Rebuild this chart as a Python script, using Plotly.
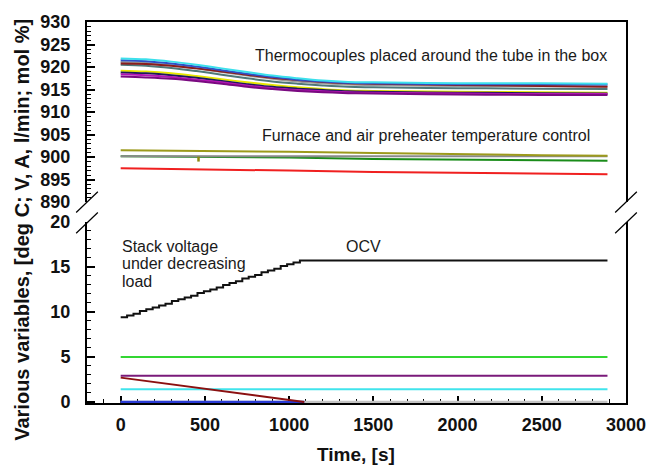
import plotly.graph_objects as go

# ---------------- data ----------------
# Thermocouples (top panel)
tc_x = [0, 150, 300, 450, 600, 750, 900, 1050, 1200, 1350, 1500, 2000, 2500, 2890]
tc_cyan = [921.9, 921.7, 921.2, 920.5, 919.7, 918.9, 918.1, 917.5, 917.0, 916.7, 916.6, 916.4, 916.4, 916.3]
tc_blue = [921.5, 921.3, 920.8, 920.1, 919.3, 918.5, 917.8, 917.2, 916.8, 916.5, 916.4, 916.2, 916.2, 916.1]
tc_grey = [921.1, 920.9, 920.4, 919.7, 918.9, 918.1, 917.4, 916.8, 916.4, 916.1, 916.0, 915.8, 915.8, 915.7]
tc_darkred = [920.8, 920.7, 920.3, 919.7, 919.0, 918.3, 917.6, 917.1, 916.7, 916.4, 916.3, 916.0, 915.8, 915.6]
tc_slate = [920.5, 920.3, 919.8, 919.1, 918.3, 917.5, 916.8, 916.3, 915.9, 915.6, 915.5, 915.3, 915.2, 915.1]
tc_yellow = [919.2, 919.0, 918.6, 918.0, 917.3, 916.6, 916.0, 915.5, 915.1, 914.8, 914.7, 914.5, 914.4, 914.3]
tc_navy = [918.8, 918.6, 918.2, 917.6, 916.9, 916.2, 915.6, 915.2, 914.9, 914.6, 914.5, 914.3, 914.2, 914.1]
tc_magenta = [918.4, 918.2, 917.8, 917.2, 916.6, 915.9, 915.3, 914.9, 914.6, 914.4, 914.3, 914.1, 914.0, 914.0]
tc_purple = [917.9, 917.7, 917.4, 916.9, 916.3, 915.6, 915.1, 914.7, 914.4, 914.2, 914.1, 913.9, 913.8, 913.8]

# Furnace and air preheater control (top panel)
fu_x = [0, 500, 1000, 1500, 2000, 2500, 2890]
fu_olive = [901.5, 901.4, 901.2, 900.9, 900.6, 900.4, 900.3]
fu_grey = [900.2, 900.2, 900.2, 900.2, 900.2, 900.2, 900.2]
fu_green = [900.2, 900.1, 899.9, 899.6, 899.4, 899.3, 899.2]
fu_red = [897.5, 897.3, 897.0, 896.7, 896.5, 896.3, 896.2]
spike_x = [462, 462]
spike_y = [900.1, 899.0]

# Stack voltage (bottom panel), staircase
sv_x = [0, 38, 76, 114, 152, 190, 228, 266, 304, 342, 380, 418, 456, 494, 532,
        570, 608, 646, 684, 722, 760, 798, 836, 874, 912, 950, 988, 1026, 1064, 2890]
sv_y = [9.4, 9.6, 9.8, 10.1, 10.3, 10.5, 10.7, 10.9, 11.2, 11.4, 11.6, 11.8, 12.1, 12.3, 12.5,
        12.7, 13.0, 13.2, 13.4, 13.7, 13.9, 14.1, 14.4, 14.6, 14.8, 15.1, 15.3, 15.5, 15.7, 15.7]

# Other bottom-panel variables
full_x = [0, 2890]
green_y = [5.0, 5.0]
purple_y = [2.9, 2.9]
cyan_y = [1.4, 1.4]
grey0_y = [0.0, 0.0]
load_x = [0, 1090]
current_y = [2.7, 0.0]
blue_y = [0.0, 0.0]

x_ticks = [0, 500, 1000, 1500, 2000, 2500, 3000]
y_top_ticks = [890, 895, 900, 905, 910, 915, 920, 925, 930]
y_bot_ticks = [0, 5, 10, 15, 20]

# ---------------- figure ----------------
fig = go.Figure()

def add(x, y, color, yaxis, xaxis, width=2, shape="linear"):
    fig.add_trace(go.Scatter(x=x, y=y, mode="lines", xaxis=xaxis, yaxis=yaxis,
                             line=dict(color=color, width=width, shape=shape),
                             showlegend=False, hoverinfo="skip"))

# top panel
for ys, c in [(tc_yellow, "#e6e600"), (tc_navy, "#1c1c58"), (tc_magenta, "#b414b4"),
              (tc_purple, "#7a0a80"), (tc_slate, "#4f7878"), (tc_grey, "#9a9a9a"),
              (tc_darkred, "#8b1c1c"), (tc_blue, "#3050c8"), (tc_cyan, "#3ce0ec")]:
    add(tc_x, ys, c, "y2", "x2", width=2, shape="spline")

add(fu_x, fu_red, "#f02020", "y2", "x2")
add(fu_x, fu_green, "#1a8c1a", "y2", "x2")
add(fu_x, fu_grey, "#8a8a8a", "y2", "x2")
add(fu_x, fu_olive, "#9c9a1c", "y2", "x2")
add(spike_x, spike_y, "#8c8a10", "y2", "x2", width=2.5)

# bottom panel
add(full_x, grey0_y, "#c4c4c4", "y", "x", width=2.5)
add(load_x, blue_y, "#2a3bd4", "y", "x", width=2.5)
add(full_x, cyan_y, "#40e4ec", "y", "x")
add(full_x, purple_y, "#7a1a7a", "y", "x")
add(full_x, green_y, "#33d633", "y", "x")
add(load_x, current_y, "#8b1010", "y", "x")
add(sv_x, sv_y, "#111111", "y", "x", width=2, shape="hv")

W, H = 658, 471
L, R, T, B = 87, 24, 18, 68
pw, ph = W - L - R, H - T - B
bot_top_px = 220
top_bot_px = 200
dom_bot = [0, (H - B - bot_top_px) / ph]
dom_top = [(H - B - top_bot_px) / ph, 1]

tickfont = dict(family="Liberation Sans, Arial, sans-serif", size=18, color="#111111", weight="bold")

fig.update_layout(
    width=W, height=H,
    margin=dict(l=L, r=R, t=T, b=B),
    plot_bgcolor="white", paper_bgcolor="white",
    xaxis=dict(domain=[0, 1], anchor="y", range=[-200, 3000], tickvals=x_ticks,
               ticks="inside", ticklen=7, tickwidth=1.5, tickcolor="black",
               minor=dict(dtick=100, ticks="inside", ticklen=4, tickwidth=1, tickcolor="black"),
               showline=True, linewidth=2, linecolor="black", showgrid=False, zeroline=False,
               tickfont=tickfont, layer="below traces", ticklabelstandoff=4),
    xaxis2=dict(domain=[0, 1], anchor="y2", matches="x", range=[-200, 3000], side="top",
                showticklabels=False, ticks="", showline=True, linewidth=2, linecolor="black",
                showgrid=False, zeroline=False),
    yaxis=dict(domain=dom_bot, anchor="x", range=[-0.12, 20], tickvals=y_bot_ticks,
               ticks="inside", ticklen=8, tickwidth=1.5, tickcolor="black",
               minor=dict(dtick=1, ticks="inside", ticklen=4, tickwidth=1, tickcolor="black"),
               showline=True, mirror=True, linewidth=2, linecolor="black",
               showgrid=False, zeroline=False, tickfont=tickfont, ticklabelstandoff=11),
    yaxis2=dict(domain=dom_top, anchor="x2", range=[890, 930], tickvals=y_top_ticks,
                ticks="inside", ticklen=8, tickwidth=1.5, tickcolor="black",
                minor=dict(dtick=1, ticks="inside", ticklen=4, tickwidth=1, tickcolor="black"),
                showline=True, mirror=True, linewidth=2, linecolor="black",
                showgrid=False, zeroline=False, tickfont=tickfont, ticklabelstandoff=11),
)

def px(xp):
    return (xp - L) / pw

def py(yp):
    return (H - B - yp) / ph

# axis-break slashes
for cx in (87, 634):
    for cy in (200, 221):
        fig.add_shape(type="line", xref="paper", yref="paper",
                      x0=px(cx - 11), y0=py(cy + 10.5), x1=px(cx + 11), y1=py(cy - 10.5),
                      line=dict(color="black", width=1.2))

txtfont = dict(family="Liberation Sans, Arial, sans-serif", size=16, color="#1a1a1a")
boldtitle = dict(family="Liberation Sans, Arial, sans-serif", size=19, color="#111111", weight="bold")
ytitlefont = dict(family="Liberation Sans, Arial, sans-serif", size=20, color="#111111", weight="bold")

fig.add_annotation(text="Thermocouples placed around the tube in the box", xref="paper", yref="paper",
                   x=px(617), y=py(52), xanchor="right", yanchor="middle", showarrow=False, font=txtfont)
fig.add_annotation(text="Furnace and air preheater temperature control", xref="paper", yref="paper",
                   x=px(599), y=py(133), xanchor="right", yanchor="middle", showarrow=False, font=txtfont)
for line_text, ypix in [("Stack voltage", 245), ("under decreasing", 262.5), ("load", 280)]:
    fig.add_annotation(text=line_text, xref="paper", yref="paper",
                       x=px(120), y=py(ypix), xanchor="left", yanchor="middle", align="left",
                       showarrow=False, font=txtfont)
fig.add_annotation(text="OCV", xref="paper", yref="paper",
                   x=px(368), y=py(245), xanchor="center", yanchor="middle", showarrow=False, font=txtfont)
fig.add_annotation(text="Time, [s]", xref="paper", yref="paper",
                   x=px(360), y=py(455), xanchor="center", yanchor="middle", showarrow=False, font=boldtitle)
fig.add_annotation(text="Various variables, [deg C; V, A, l/min; mol %]", xref="paper", yref="paper",
                   x=px(21), y=py(228), xanchor="center", yanchor="middle", textangle=-90,
                   showarrow=False, font=ytitlefont)

fig.write_html("out.html")
